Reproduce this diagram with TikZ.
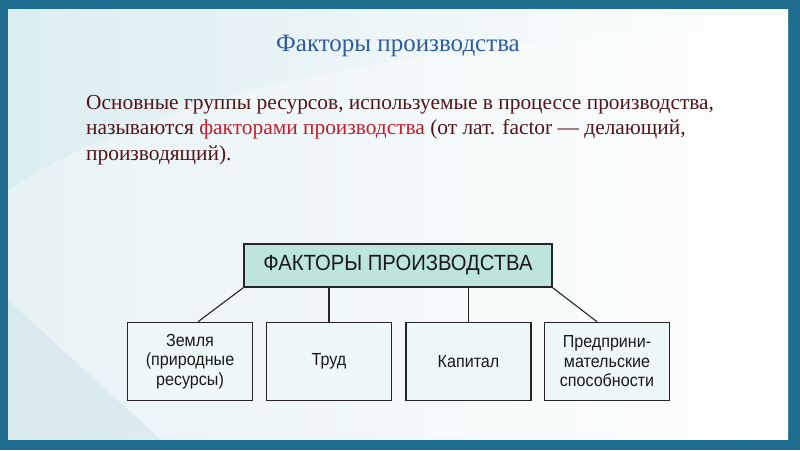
\documentclass[tikz,border=0pt]{standalone}
\usepackage{fontspec}
\setmainfont{Liberation Serif}
\newfontfamily\schemefont{Liberation Sans}[FakeStretch=0.92]

\definecolor{frameblue}{HTML}{1E6C8E}
\definecolor{panelbg}{HTML}{DCEDF1}
\definecolor{titleblue}{HTML}{2C5DA3}
\definecolor{textmaroon}{HTML}{521519}
\definecolor{termred}{HTML}{C41E2C}
\definecolor{headfill}{HTML}{BDE5DE}
\definecolor{boxfill}{HTML}{EEF8F9}

\tikzset{
  factorbox/.style={draw=black!85, line width=1.5pt, fill=boxfill, text=black!90,
    minimum width=125pt, minimum height=78pt, align=center,
    font=\schemefont\fontsize{17.5}{19.5}\selectfont},
  link/.style={draw=black!85, line width=1.1pt}
}

\begin{document}
\begin{tikzpicture}[x=1pt,y=-1pt]
  \useasboundingbox (0,0) rectangle (800,450);

  % Frame and slide panel
  \fill[frameblue] (0,0) rectangle (800,450);
  \shade[left color=panelbg, right color=white] (8,9) rectangle (788,439);
  \fill[white, opacity=0.35] (8,190) .. controls (160,90) and (420,40) .. (788,25)
    -- (788,439) -- (8,439) -- cycle;
  \fill[frameblue!30, opacity=0.3] (8,300) -- (160,439) -- (8,439) -- cycle;

  % Title
  \node[titleblue, font=\fontsize{25}{30}\selectfont] (title) at (398,46) {Факторы производства};

  % Definition
  \node[anchor=north west, align=left, inner sep=0pt, textmaroon,
    font=\fontsize{21.4}{25.5}\selectfont] (intro) at (86,95)
    {Основные группы ресурсов, используемые в процессе производства,\\
     называются \textcolor{termred}{факторами производства} (от лат. factor — делающий,\\
     производящий).};

  % Scheme
  \node[factorbox, fill=headfill, minimum width=308pt, minimum height=43pt,
    font=\schemefont\fontsize{22}{26}\selectfont] (head) at (398,265.5) {ФАКТОРЫ ПРОИЗВОДСТВА};

  \node[factorbox] (zemlya)  at (190,361.5)   {Земля\\(природные\\ресурсы)};
  \node[factorbox] (trud)    at (329,361.5)   {Труд};
  \node[factorbox] (kapital) at (468.5,361.5) {Капитал};
  \node[factorbox] (predpr)  at (607,361.5)   {Предприни-\\мательские\\способности};

  % Links
  \draw[link] (head.south west) -- ([xshift=8pt]zemlya.north);
  \foreach \n in {trud, kapital}
    \draw[link] (head.south -| \n.north) -- (\n.north);
  \draw[link] (head.south east) -- ([xshift=-10pt]predpr.north);
\end{tikzpicture}
\end{document}
